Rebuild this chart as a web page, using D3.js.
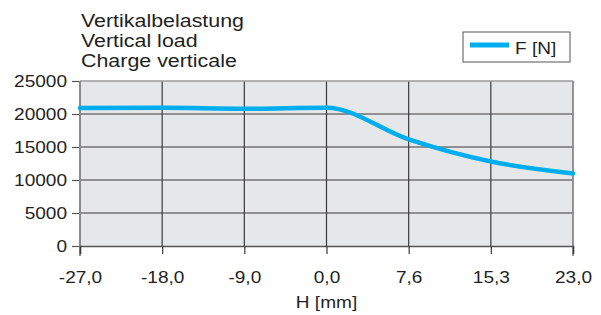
<!DOCTYPE html>
<html>
<head>
<meta charset="utf-8">
<script src="https://cdn.jsdelivr.net/npm/d3@7"></script>
<style>
  body { margin: 0; background: #fff; }
  text { font-family: "Liberation Sans", Arial, sans-serif; fill: #231f20; }
</style>
</head>
<body>
<div id="chart-area"></div>
<script>
// data
var strokeLabels = ["-27,0", "-18,0", "-9,0", "0,0", "7,6", "15,3", "23,0"];
var loadValues = [20900, 20950, 20800, 20950, 16150, 12800, 11000];
var yTicks = [0, 5000, 10000, 15000, 20000, 25000];
var titleLines = ["Vertikalbelastung", "Vertical load", "Charge verticale"];

var stretch = 1.17; // the source lettering is a bit wider than Liberation Sans

var margin = {left: 80, right: 28, top: 81, bottom: 69};
var width = 601 - margin.left - margin.right;
var height = 315 - margin.top - margin.bottom;

var svg = d3.select("#chart-area").append("svg")
    .attr("width", 601)
    .attr("height", 315);

var g = svg.append("g")
    .attr("transform", "translate(" + margin.left + "," + margin.top + ")");

var x = d3.scalePoint()
    .domain(strokeLabels)
    .range([0, width]);

var y = d3.scaleLinear()
    .domain([0, 25000])
    .range([height, 0]);

// plot background
g.append("rect")
    .attr("width", width)
    .attr("height", height)
    .attr("fill", "#e6e7e9");

// grid
g.selectAll(".hgrid")
    .data(yTicks.slice(1, -1))
    .enter().append("line")
    .attr("x1", 0).attr("x2", width)
    .attr("y1", function(d) { return y(d); })
    .attr("y2", function(d) { return y(d); })
    .attr("stroke", "#3a3a3a")
    .attr("stroke-width", 1.2);

g.selectAll(".vgrid")
    .data(strokeLabels.slice(1, -1))
    .enter().append("line")
    .attr("x1", function(d) { return x(d); })
    .attr("x2", function(d) { return x(d); })
    .attr("y1", 0).attr("y2", height)
    .attr("stroke", "#3a3a3a")
    .attr("stroke-width", 1.2);

// frame
g.append("line").attr("x1", 0).attr("x2", width).attr("y1", 0).attr("y2", 0)
    .attr("stroke", "#9a9a9a").attr("stroke-width", 1.5);
g.append("line").attr("x1", width).attr("x2", width).attr("y1", 0).attr("y2", height + 10)
    .attr("stroke", "#8a8a8a").attr("stroke-width", 1.8);

// axes
var yAxis = g.append("g")
    .call(d3.axisLeft(y).tickValues(yTicks).tickSize(8).tickFormat(d3.format("d")));
yAxis.select(".domain").remove();
yAxis.selectAll("line").attr("stroke", "#555").attr("stroke-width", 1.2);
yAxis.selectAll("text")
    .attr("x", -13 / stretch)
    .attr("transform", "scale(" + stretch + ",1)")
    .attr("font-size", 16.3)
    .attr("fill", "#231f20");
g.append("line").attr("x1", 0).attr("x2", 0).attr("y1", 0).attr("y2", height + 10)
    .attr("stroke", "#8a8a8a").attr("stroke-width", 2);

var xAxis = g.append("g")
    .attr("transform", "translate(0," + height + ")")
    .call(d3.axisBottom(x).tickSize(8).tickPadding(17));
xAxis.select(".domain").attr("stroke", "#555").attr("stroke-width", 1.5);
xAxis.selectAll("line").attr("stroke", "#3a3a3a").attr("stroke-width", 1.2);
xAxis.selectAll("text")
    .attr("transform", "scale(" + stretch + ",1)")
    .attr("font-size", 16.3)
    .attr("fill", "#231f20");

g.append("text")
    .attr("transform", "translate(" + (width / 2) + "," + (height + 62) + ") scale(" + stretch + ",1)")
    .attr("text-anchor", "middle")
    .attr("font-size", 16.3)
    .text("H [mm]");

// load line
var line = d3.line()
    .x(function(d, i) { return x(strokeLabels[i]); })
    .y(function(d) { return y(d); })
    .curve(d3.curveMonotoneX);

g.append("path")
    .datum(loadValues)
    .attr("fill", "none")
    .attr("stroke", "#00aeef")
    .attr("stroke-width", 4.5)
    .attr("stroke-linecap", "round")
    .attr("d", line);

// title
svg.selectAll(".title")
    .data(titleLines)
    .enter().append("text")
    .attr("transform", function(d, i) { return "translate(81," + (27 + i * 20) + ") scale(" + stretch + ",1)"; })
    .attr("font-size", 18.3)
    .text(function(d) { return d; });

// legend
var legend = svg.append("g").attr("transform", "translate(463,32)");
legend.append("rect")
    .attr("width", 107)
    .attr("height", 30)
    .attr("fill", "#fff")
    .attr("stroke", "#555")
    .attr("stroke-width", 1);
legend.append("line")
    .attr("x1", 7).attr("x2", 46)
    .attr("y1", 13).attr("y2", 13)
    .attr("stroke", "#00aeef")
    .attr("stroke-width", 5);
legend.append("text")
    .attr("transform", "translate(52,22) scale(" + stretch + ",1)")
    .attr("font-size", 16.3)
    .text("F [N]");
</script>
</body>
</html>
